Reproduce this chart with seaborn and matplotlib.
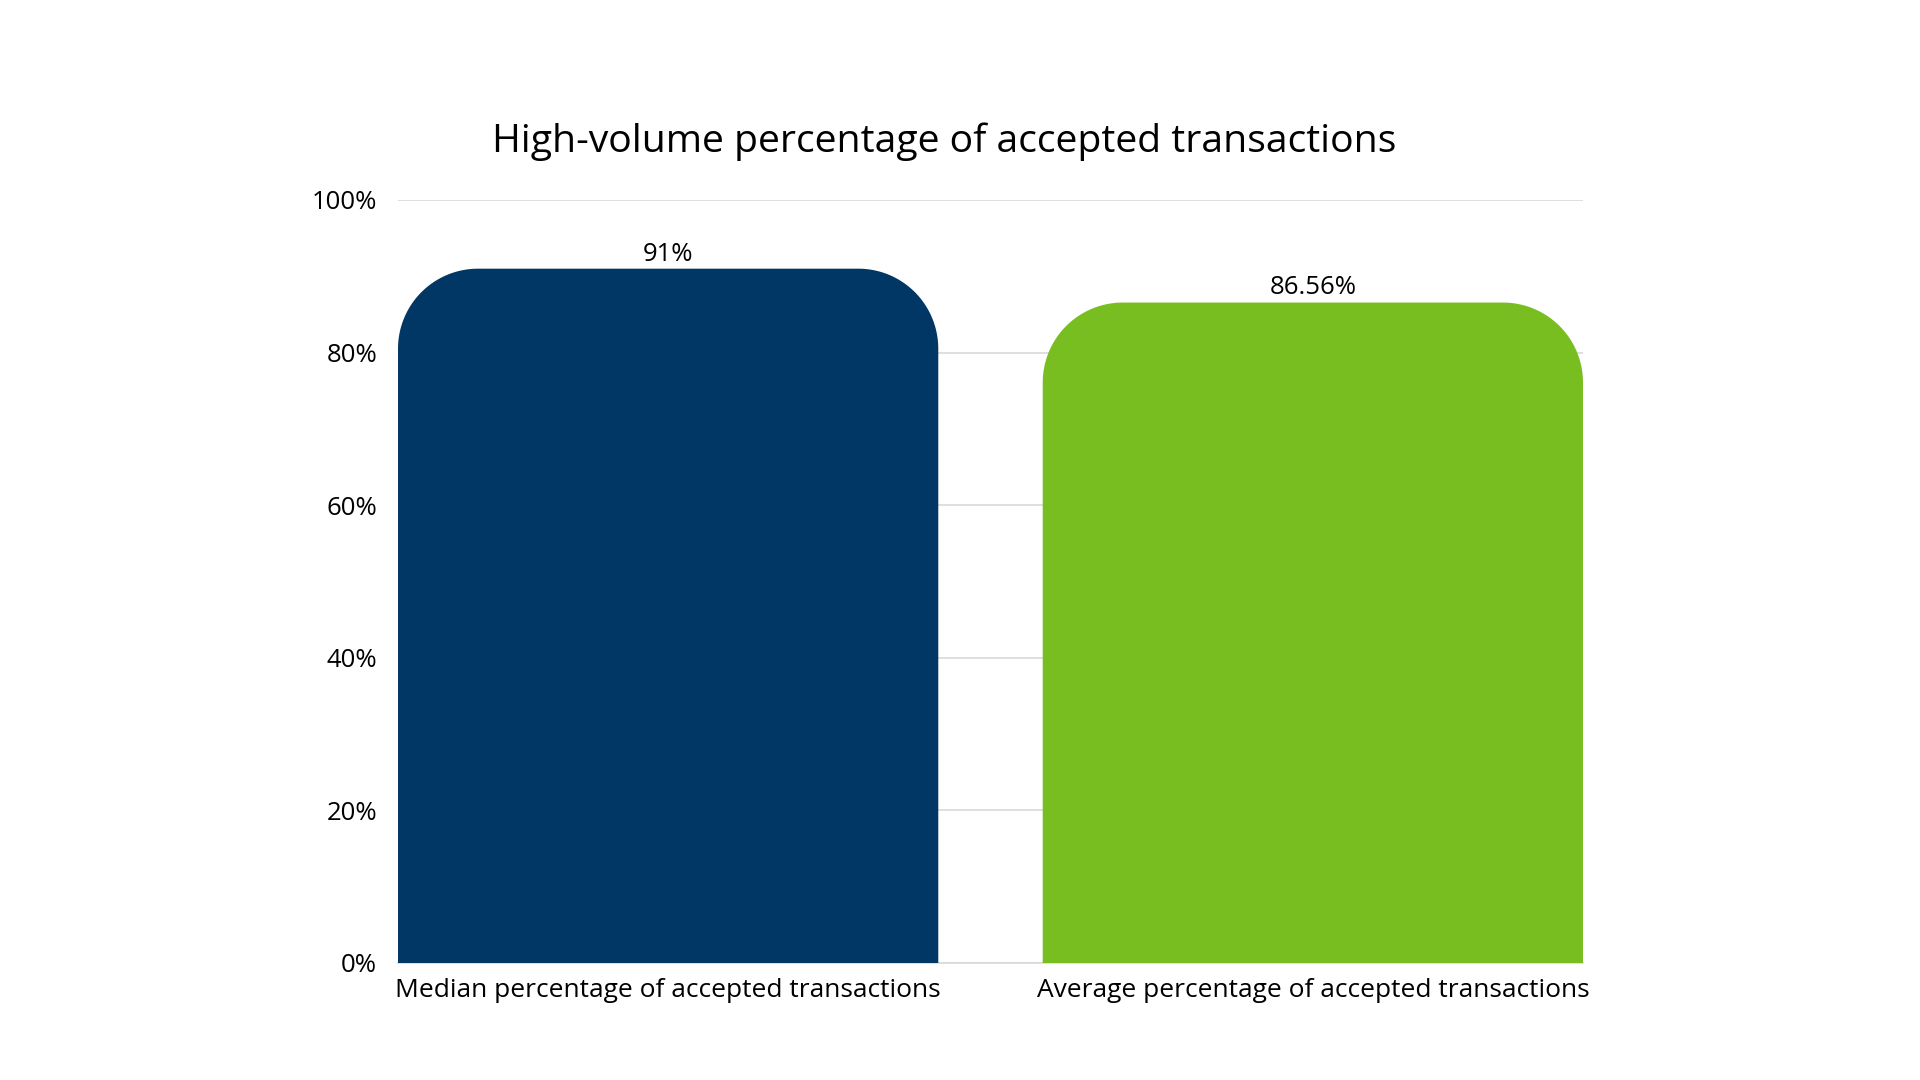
import numpy as np
import pandas as pd
import matplotlib
matplotlib.use("Agg")
import matplotlib.pyplot as plt
from matplotlib.path import Path
from matplotlib.patches import PathPatch
import seaborn as sns

# ---- data ----
categories = ["Median percentage of accepted transactions",
              "Average percentage of accepted transactions"]
values = [91, 86.56]
bar_colors = ["#003764", "#78BE21"]
y_ticks = [0, 20, 40, 60, 80, 100]
y_tick_labels = ["0%", "20%", "40%", "60%", "80%", "100%"]
title = "High-volume percentage of accepted transactions"

sns.set_theme(style="white")
plt.rcParams["font.family"] = ["Open Sans", "DejaVu Sans"]

df = pd.DataFrame({"category": categories, "value": values})

fig = plt.figure(figsize=(19.2, 10.8), dpi=100)
ax = fig.add_axes([398 / 1920, 117 / 1080, 1185 / 1920, 763 / 1080])

bar_w = 0.838
sns.barplot(data=df, x="category", y="value", hue="category",
            palette=bar_colors, width=bar_w, legend=False, ax=ax,
            saturation=1, zorder=3)

ax.set_ylim(0, 100)
ax.set_xlim(-bar_w / 2, len(categories) - 1 + bar_w / 2)
ax.set_yticks(y_ticks)
ax.set_yticklabels(y_tick_labels)
ax.yaxis.grid(True, color="#d9d9d9", linewidth=1.2, zorder=0)
ax.set_axisbelow(True)
for s in ["top", "right", "left"]:
    ax.spines[s].set_visible(False)
ax.spines["bottom"].set_color("#d9d9d9")
ax.spines["bottom"].set_linewidth(1.2)
ax.set_xlabel("")
ax.set_ylabel("")
ax.tick_params(axis="y", length=0, pad=15, labelsize=18.5, labelcolor="#000000")
ax.tick_params(axis="x", length=0, pad=11, labelsize=19, labelcolor="#000000")

# rounded top corners (radius in pixels, converted to data units)
fig.canvas.draw()
bbox = ax.get_window_extent()
x0, x1 = ax.get_xlim()
y0, y1 = ax.get_ylim()
px_x = bbox.width / (x1 - x0)
px_y = bbox.height / (y1 - y0)
r_px = 80
rx = r_px / px_x
ry = r_px / px_y

theta = np.linspace(0, np.pi / 2, 40)
for patch in list(ax.patches):
    bx, bw, bh = patch.get_x(), patch.get_width(), patch.get_height()
    color = patch.get_facecolor()
    patch.set_visible(False)
    pts = [(bx, 0), (bx + bw, 0), (bx + bw, bh - ry)]
    # top right arc
    for t in theta:
        pts.append((bx + bw - rx + rx * np.cos(t), bh - ry + ry * np.sin(t)))
    # top left arc
    for t in theta:
        pts.append((bx + rx - rx * np.sin(t), bh - ry + ry * np.cos(t)))
    pts.append((bx, 0))
    path = Path(pts, closed=True)
    ax.add_patch(PathPatch(path, facecolor=color, edgecolor="none", zorder=3))
    ax.annotate(f"{bh:g}%", xy=(bx + bw / 2, bh), xytext=(0, 1.5),
                textcoords="offset points", ha="center", va="bottom",
                fontsize=18.5, color="#000000")

fig.text(944 / 1920, 1 - 142 / 1080, title, ha="center", va="center",
         fontsize=28.2, color="#000000")

fig.savefig("out.png", dpi=100, facecolor="white")
